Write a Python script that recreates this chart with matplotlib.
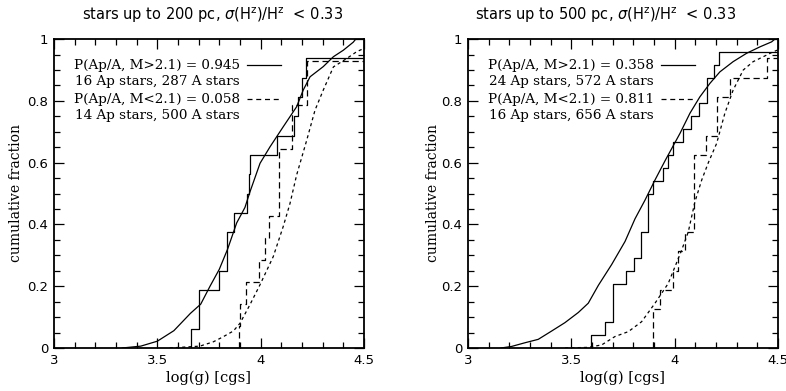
import numpy as np
import matplotlib
matplotlib.use("Agg")
import matplotlib.pyplot as plt
from matplotlib.ticker import MultipleLocator

# ---- left panel: stars up to 200 pc ----
# Ap stars, M > 2.1 (16 stars), log g values
ap_hi_200 = [3.661, 3.703, 3.703, 3.800, 3.835, 3.835, 3.871, 3.935, 3.945, 3.948,
             4.080, 4.161, 4.180, 4.200, 4.219, 4.600]
# Ap stars, M < 2.1 (14 stars)
ap_lo_200 = [3.895, 3.900, 3.929, 3.990, 4.020, 4.040, 4.090, 4.090, 4.090,
             4.150, 4.150, 4.222, 4.222, 4.600]
# A stars, M > 2.1 (287 stars), cumulative curve
a_hi_200_x = [3.33, 3.42, 3.50, 3.58, 3.66, 3.71, 3.755, 3.80, 3.84, 3.884, 3.924,
              3.948, 3.997, 4.045, 4.109, 4.174, 4.206, 4.239, 4.303, 4.352, 4.40, 4.448, 4.46]
a_hi_200_y = [0.0, 0.006, 0.022, 0.056, 0.112, 0.142, 0.200, 0.255, 0.320, 0.405, 0.455,
              0.505, 0.598, 0.651, 0.716, 0.781, 0.835, 0.878, 0.911, 0.943, 0.964, 0.99, 1.0]
# A stars, M < 2.1 (500 stars)
a_lo_200_x = [3.56, 3.706, 3.771, 3.815, 3.868, 3.900, 3.948, 3.997, 4.061, 4.109, 4.142,
              4.174, 4.223, 4.263, 4.303, 4.352, 4.416, 4.464, 4.50]
a_lo_200_y = [0.0, 0.006, 0.020, 0.035, 0.055, 0.080, 0.140, 0.205, 0.296, 0.393, 0.468,
              0.560, 0.673, 0.770, 0.835, 0.910, 0.937, 0.959, 0.970]

# ---- right panel: stars up to 500 pc ----
ap_hi_500 = [3.595, 3.664, 3.700, 3.700, 3.700, 3.764, 3.802, 3.835, 3.835, 3.872,
             3.872, 3.872, 3.895, 3.945, 3.970, 3.990, 4.039, 4.080, 4.120, 4.158,
             4.158, 4.190, 4.216, 4.600]
ap_lo_500 = [3.897, 3.897, 3.929, 3.993, 4.018, 4.050, 4.095, 4.095, 4.095, 4.095,
             4.154, 4.203, 4.203, 4.270, 4.445, 4.600]
a_hi_500_x = [3.16, 3.211, 3.276, 3.340, 3.405, 3.469, 3.534, 3.582, 3.631, 3.695, 3.760,
              3.808, 3.856, 3.905, 3.955, 4.026, 4.074, 4.122, 4.171, 4.219, 4.283,
              4.348, 4.413, 4.469, 4.485]
a_hi_500_y = [0.0, 0.005, 0.017, 0.028, 0.055, 0.082, 0.115, 0.145, 0.203, 0.270, 0.345,
              0.418, 0.478, 0.544, 0.608, 0.695, 0.760, 0.813, 0.857, 0.894, 0.927,
              0.954, 0.975, 0.991, 1.0]
a_lo_500_x = [3.47, 3.582, 3.647, 3.711, 3.776, 3.840, 3.905, 3.969, 4.034, 4.066, 4.098,
              4.131, 4.163, 4.203, 4.243, 4.283, 4.332, 4.380, 4.429, 4.477, 4.50]
a_lo_500_y = [0.0, 0.002, 0.010, 0.037, 0.053, 0.085, 0.145, 0.209, 0.317, 0.376, 0.473,
              0.544, 0.600, 0.662, 0.760, 0.835, 0.900, 0.927, 0.943, 0.959, 0.965]

titles = [r"stars up to 200 pc, $\sigma$(H$^{\rm z}$)/H$^{\rm z}$  < 0.33",
          r"stars up to 500 pc, $\sigma$(H$^{\rm z}$)/H$^{\rm z}$  < 0.33"]
labels_200 = ["P(Ap/A, M>2.1) = 0.945\n16 Ap stars, 287 A stars",
              "P(Ap/A, M<2.1) = 0.058\n14 Ap stars, 500 A stars"]
labels_500 = ["P(Ap/A, M>2.1) = 0.358\n24 Ap stars, 572 A stars",
              "P(Ap/A, M<2.1) = 0.811\n16 Ap stars, 656 A stars"]

LONG = (0, (5, 3))
SHORT = (0, (2.5, 2.5))


def ecdf_step(ax, vals, ls):
    x = np.sort(np.array(vals))
    n = len(x)
    xs = np.concatenate([[x[0]], x])
    ys = np.concatenate([[0.0], np.arange(1, n + 1) / n])
    ax.plot(xs, ys, drawstyle='steps-post', color='k', lw=0.9, linestyle=ls)


def panel(ax, ap_hi, ap_lo, ahx, ahy, alx, aly, labels):
    ecdf_step(ax, ap_hi, '-')
    ecdf_step(ax, ap_lo, LONG)
    ax.plot(ahx, ahy, color='k', lw=0.9)
    ax.plot(alx, aly, color='k', lw=0.9, linestyle=SHORT)
    ax.set_xlim(3, 4.5)
    ax.set_ylim(0, 1)
    ax.xaxis.set_major_locator(MultipleLocator(0.5))
    ax.xaxis.set_minor_locator(MultipleLocator(0.1))
    ax.yaxis.set_major_locator(MultipleLocator(0.2))
    ax.yaxis.set_minor_locator(MultipleLocator(0.05))
    ax.xaxis.set_major_formatter(plt.FuncFormatter(lambda v, p: ('%g' % v)))
    ax.yaxis.set_major_formatter(plt.FuncFormatter(lambda v, p: ('%g' % v)))
    ax.tick_params(which='both', direction='in', top=True, right=True,
                   labelsize=9.5, width=0.9, pad=4)
    ax.tick_params(which='major', length=7)
    ax.tick_params(which='minor', length=4)
    for s in ax.spines.values():
        s.set_linewidth(1.3)
    # legend-like annotations
    ys = [0.919, 0.809]
    styles = ['-', (0, (4, 3))]
    for lab, yy, st in zip(labels, ys, styles):
        ax.text(3.5, yy + 0.017, lab, ha='center', va='top', family='DejaVu Serif',
                fontsize=9.7, linespacing=1.3)
        ax.plot([3.935, 4.10], [yy - 0.002, yy - 0.002], color='k', lw=0.9, linestyle=st)


fig = plt.figure(figsize=(7.86, 3.91), dpi=100)
ax1 = fig.add_axes([0.0687, 0.110, 0.3944, 0.790])
ax2 = fig.add_axes([0.5954, 0.110, 0.3944, 0.790])

panel(ax1, ap_hi_200, ap_lo_200, a_hi_200_x, a_hi_200_y, a_lo_200_x, a_lo_200_y, labels_200)
panel(ax2, ap_hi_500, ap_lo_500, a_hi_500_x, a_hi_500_y, a_lo_500_x, a_lo_500_y, labels_500)

fig.text(0.270, 0.962, titles[0], ha='center', va='center', fontsize=10.5)
fig.text(0.771, 0.962, titles[1], ha='center', va='center', fontsize=10.5)

for xc in [0.0687 + 0.3944 / 2, 0.5954 + 0.3944 / 2]:
    fig.text(xc, 0.033, "log(g) [cgs]", ha='center', va='center',
             family='DejaVu Serif', fontsize=10.5)
for xc in [0.020, 0.551]:
    fig.text(xc, 0.506, "cumulative fraction", ha='center', va='center',
             rotation=90, family='DejaVu Serif', fontsize=10)

fig.savefig("out.png", dpi=100)
